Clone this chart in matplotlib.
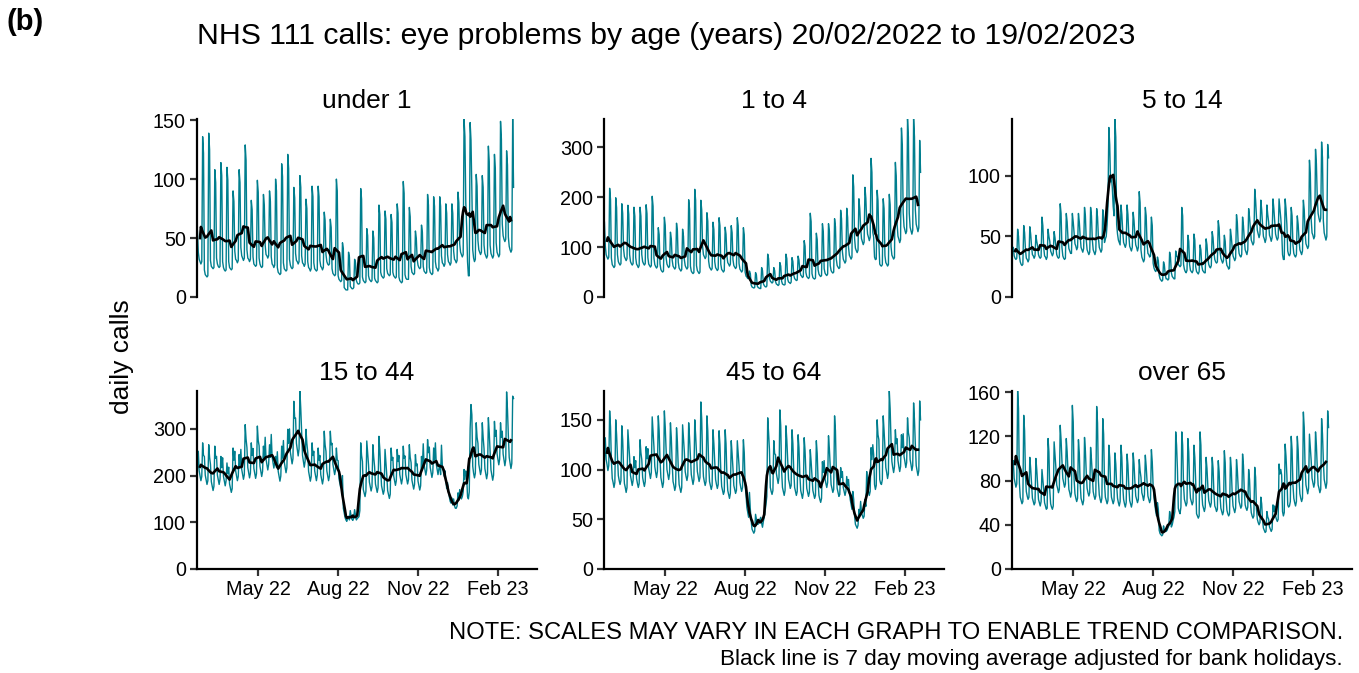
import numpy as np
import pandas as pd
import matplotlib
matplotlib.use("Agg")
import matplotlib.pyplot as plt
import matplotlib.dates as mdates
from matplotlib.ticker import MultipleLocator

plt.rcParams['font.family'] = ['Liberation Sans', 'DejaVu Sans']

# --- données : appels quotidiens, une ligne = une semaine (dim -> sam) ---
start_date = "2022-02-20"

under_1 = [
    [56, 38, 32, 30, 28, 30, 136], [122, 23, 19, 18, 17, 18, 139], [125, 31, 26, 25, 24, 25, 108],
    [97, 33, 28, 26, 25, 26, 114], [103, 30, 25, 23, 22, 23, 110], [99, 30, 25, 24, 23, 24, 90],
    [81, 39, 32, 31, 29, 31, 108], [97, 42, 35, 33, 31, 33, 129], [116, 40, 33, 32, 30, 32, 82],
    [74, 34, 28, 27, 26, 27, 99], [89, 33, 28, 26, 25, 26, 87], [78, 44, 36, 35, 33, 35, 90],
    [81, 34, 28, 27, 25, 27, 100], [90, 25, 21, 20, 19, 20, 113], [102, 29, 24, 23, 22, 23, 121],
    [109, 32, 27, 25, 24, 25, 93], [84, 37, 31, 30, 28, 30, 103], [93, 35, 29, 28, 26, 28, 83],
    [75, 30, 25, 24, 22, 24, 94], [85, 29, 24, 23, 22, 23, 94], [85, 31, 26, 25, 23, 25, 72],
    [65, 36, 30, 28, 27, 28, 66], [59, 24, 20, 19, 18, 19, 100], [90, 18, 15, 14, 13, 14, 46],
    [41, 8, 7, 6, 6, 6, 38], [34, 9, 8, 7, 7, 8, 32], [29, 14, 12, 11, 11, 12, 92],
    [83, 17, 14, 13, 12, 13, 58], [52, 18, 15, 14, 13, 14, 56], [50, 16, 14, 13, 12, 13, 78],
    [70, 21, 18, 17, 16, 17, 73], [66, 24, 20, 19, 18, 19, 70], [63, 21, 18, 17, 16, 17, 79],
    [71, 17, 14, 13, 12, 13, 98], [88, 19, 16, 15, 15, 15, 76], [68, 26, 21, 20, 19, 20, 56],
    [50, 32, 27, 25, 24, 25, 61], [55, 26, 22, 21, 20, 21, 87], [78, 25, 21, 20, 19, 20, 85],
    [77, 30, 25, 24, 22, 24, 85], [77, 35, 29, 28, 26, 28, 79], [71, 36, 30, 29, 27, 29, 79],
    [71, 39, 32, 31, 29, 31, 89], [80, 45, 38, 36, 34, 36, 151], [136, 80, 60, 30, 18, 18, 148],
    [133, 90, 40, 33, 30, 32, 104], [94, 48, 40, 38, 36, 38, 103], [93, 44, 37, 35, 33, 35, 128],
    [115, 44, 37, 35, 33, 35, 121], [109, 46, 38, 36, 34, 36, 149], [134, 62, 52, 49, 47, 49, 124],
    [112, 51, 43, 40, 38, 40, 151], [93],
]

age_1_4 = [
    [150, 102, 85, 80, 76, 80, 218], [196, 78, 65, 62, 59, 62, 199], [179, 85, 71, 67, 64, 67, 187],
    [168, 97, 81, 77, 73, 77, 184], [166, 85, 71, 67, 64, 67, 180], [162, 79, 66, 63, 59, 63, 180],
    [162, 85, 71, 67, 64, 67, 185], [167, 79, 66, 63, 60, 63, 202], [182, 78, 65, 61, 58, 61, 139],
    [125, 66, 55, 52, 50, 52, 160], [144, 79, 66, 62, 59, 62, 130], [117, 74, 62, 59, 56, 59, 148],
    [133, 70, 58, 55, 52, 55, 136], [122, 75, 63, 59, 56, 59, 195], [176, 62, 52, 49, 47, 49, 216],
    [194, 63, 53, 50, 47, 50, 194], [175, 102, 85, 81, 77, 81, 169], [152, 72, 60, 57, 54, 57, 150],
    [135, 71, 59, 56, 53, 56, 159], [143, 66, 55, 53, 50, 53, 140], [126, 83, 69, 66, 62, 66, 143],
    [129, 75, 63, 60, 57, 60, 159], [143, 67, 56, 53, 50, 53, 139], [125, 50, 42, 40, 37, 40, 52],
    [47, 24, 20, 19, 18, 19, 49], [44, 22, 19, 18, 17, 17, 59], [53, 27, 23, 21, 20, 22, 86],
    [77, 38, 32, 30, 28, 30, 59], [53, 31, 26, 25, 23, 25, 69], [62, 32, 26, 25, 24, 25, 86],
    [77, 36, 30, 29, 27, 30, 79], [71, 44, 37, 35, 33, 34, 82], [74, 53, 44, 42, 39, 41, 113],
    [102, 49, 41, 39, 37, 40, 168], [151, 47, 39, 37, 36, 38, 128], [115, 55, 46, 43, 41, 43, 147],
    [132, 57, 48, 45, 43, 46, 147], [132, 63, 53, 50, 48, 50, 157], [141, 76, 63, 60, 57, 59, 174],
    [157, 91, 76, 72, 68, 72, 178], [160, 101, 84, 80, 76, 80, 245], [221, 118, 98, 93, 89, 94, 197],
    [177, 140, 117, 111, 105, 110, 220], [198, 151, 126, 120, 113, 120, 278], [250, 130, 120, 80, 75, 76, 214],
    [193, 110, 66, 63, 62, 65, 197], [177, 83, 69, 66, 62, 65, 206], [185, 101, 84, 80, 76, 79, 270],
    [243, 146, 122, 116, 109, 115, 339], [305, 169, 141, 134, 127, 132, 357], [321, 168, 140, 133, 126, 134, 357],
    [321, 175, 146, 139, 131, 139, 314], [250],
]

age_5_14 = [
    [40, 41, 34, 32, 31, 32, 56], [50, 34, 29, 27, 26, 27, 59], [53, 39, 32, 31, 29, 31, 58],
    [52, 42, 35, 34, 32, 34, 51], [46, 42, 35, 33, 32, 33, 66], [59, 41, 34, 33, 31, 33, 56],
    [50, 46, 38, 36, 34, 36, 54], [49, 42, 35, 33, 32, 33, 77], [69, 41, 34, 32, 31, 32, 69],
    [62, 48, 40, 38, 36, 36, 69], [62, 53, 44, 42, 39, 41, 69], [62, 50, 41, 39, 37, 40, 74],
    [67, 47, 39, 37, 35, 37, 74], [67, 47, 39, 37, 35, 38, 73], [66, 49, 41, 39, 37, 39, 72],
    [65, 45, 48, 50, 60, 75, 140], [126, 95, 100, 90, 75, 67, 147], [132, 60, 52, 47, 45, 43, 76],
    [68, 54, 45, 43, 41, 44, 76], [68, 51, 42, 40, 38, 41, 70], [63, 51, 43, 41, 38, 41, 87],
    [78, 39, 33, 31, 29, 31, 74], [67, 44, 36, 35, 33, 34, 66], [59, 28, 24, 22, 21, 23, 33],
    [30, 18, 15, 14, 13, 14, 29], [26, 18, 15, 15, 14, 15, 37], [33, 20, 17, 16, 15, 15, 38],
    [34, 33, 27, 26, 25, 26, 74], [67, 27, 23, 21, 20, 22, 51], [46, 27, 22, 21, 20, 22, 52],
    [47, 25, 21, 20, 19, 21, 43], [39, 26, 22, 21, 20, 20, 48], [43, 32, 27, 25, 24, 26, 54],
    [49, 37, 31, 29, 28, 29, 63], [57, 38, 32, 30, 28, 30, 51], [46, 31, 26, 25, 23, 24, 56],
    [50, 41, 34, 32, 30, 32, 68], [61, 43, 36, 34, 33, 35, 66], [59, 47, 39, 37, 35, 39, 73],
    [66, 57, 47, 45, 43, 45, 89], [80, 66, 55, 52, 49, 52, 80], [72, 60, 50, 48, 45, 48, 76],
    [68, 62, 51, 49, 46, 49, 81], [73, 62, 52, 49, 47, 49, 81], [73, 65, 55, 35, 31, 31, 81],
    [73, 60, 38, 35, 34, 36, 74], [67, 43, 36, 34, 33, 35, 67], [60, 47, 39, 37, 35, 38, 80],
    [72, 53, 44, 42, 40, 42, 113], [102, 64, 53, 51, 48, 50, 122], [110, 82, 69, 65, 62, 65, 128],
    [115, 63, 53, 50, 47, 50, 126], [115],
]

age_15_44 = [
    [215, 252, 210, 199, 189, 198, 270], [243, 241, 201, 191, 181, 189, 266], [239, 224, 187, 177, 168, 177, 263],
    [237, 241, 201, 191, 181, 192, 241], [217, 238, 198, 188, 178, 189, 227], [204, 218, 182, 173, 164, 172, 259],
    [233, 252, 210, 199, 189, 198, 245], [221, 256, 213, 203, 192, 202, 309], [278, 260, 217, 206, 195, 205, 270],
    [243, 258, 215, 204, 194, 204, 306], [275, 264, 220, 209, 198, 209, 263], [237, 282, 235, 224, 212, 224, 266],
    [239, 288, 240, 228, 216, 228, 241], [217, 251, 209, 199, 188, 199, 263], [237, 275, 229, 217, 206, 217, 299],
    [269, 300, 250, 237, 225, 236, 359], [323, 323, 269, 256, 242, 257, 381], [343, 291, 243, 230, 218, 231, 299],
    [269, 250, 209, 198, 188, 198, 270], [243, 252, 210, 200, 189, 201, 259], [233, 243, 202, 192, 182, 193, 295],
    [266, 252, 210, 199, 189, 199, 295], [266, 269, 224, 213, 202, 212, 259], [233, 232, 193, 184, 174, 184, 200],
    [130, 120, 110, 105, 102, 111, 113], [105, 125, 112, 106, 104, 112, 127], [115, 105, 108, 110, 112, 125, 270],
    [243, 230, 170, 162, 155, 166, 274], [247, 223, 186, 177, 167, 176, 266], [239, 219, 182, 173, 164, 174, 284],
    [256, 213, 178, 169, 160, 168, 256], [230, 202, 168, 160, 151, 160, 259], [233, 239, 199, 189, 179, 189, 256],
    [230, 243, 202, 192, 182, 193, 263], [237, 242, 202, 192, 182, 191, 266], [239, 228, 190, 181, 171, 181, 245],
    [221, 225, 188, 178, 169, 178, 241], [217, 268, 223, 212, 201, 212, 277], [249, 261, 218, 207, 196, 206, 259],
    [233, 270, 225, 214, 202, 214, 224], [202, 265, 221, 210, 199, 210, 191], [172, 185, 170, 155, 145, 141, 152],
    [137, 150, 135, 130, 130, 135, 163], [147, 170, 155, 150, 155, 165, 213], [192, 210, 200, 155, 150, 165, 300],
    [352, 330, 220, 205, 195, 205, 313], [282, 269, 224, 213, 202, 212, 313], [282, 258, 215, 204, 193, 204, 324],
    [292, 254, 212, 201, 190, 201, 316], [284, 297, 247, 235, 223, 235, 313], [282, 295, 246, 233, 221, 234, 379],
    [341, 286, 239, 227, 215, 226, 370], [365],
]

age_45_64 = [
    [110, 132, 110, 105, 99, 104, 159], [143, 109, 91, 87, 82, 87, 150], [135, 113, 94, 89, 85, 89, 144],
    [130, 103, 86, 82, 77, 82, 140], [126, 112, 94, 89, 84, 89, 113], [102, 109, 91, 86, 82, 86, 130],
    [117, 110, 92, 87, 83, 88, 123], [111, 121, 101, 96, 91, 97, 153], [138, 123, 103, 97, 92, 98, 154],
    [139, 110, 92, 87, 82, 87, 159], [143, 120, 100, 95, 90, 96, 147], [132, 106, 88, 84, 79, 83, 142],
    [128, 102, 85, 81, 77, 82, 145], [131, 118, 98, 93, 89, 94, 147], [132, 114, 95, 90, 85, 90, 150],
    [135, 117, 98, 93, 88, 92, 168], [151, 112, 93, 88, 84, 88, 154], [139, 106, 88, 84, 80, 84, 140],
    [126, 108, 90, 85, 81, 85, 139], [125, 99, 83, 79, 75, 78, 140], [126, 95, 79, 75, 71, 76, 129],
    [116, 101, 84, 80, 76, 79, 129], [116, 104, 87, 82, 78, 82, 130], [117, 85, 75, 62, 57, 52, 77],
    [60, 48, 40, 38, 36, 38, 55], [50, 45, 45, 48, 50, 52, 46], [42, 48, 52, 58, 65, 73, 152],
    [137, 120, 82, 78, 75, 79, 129], [116, 115, 96, 91, 86, 92, 160], [144, 99, 82, 78, 74, 79, 144],
    [130, 110, 90, 86, 81, 84, 140], [126, 99, 82, 78, 74, 78, 135], [122, 95, 79, 75, 71, 77, 132],
    [119, 97, 81, 77, 73, 77, 120], [108, 94, 79, 75, 71, 74, 129], [116, 89, 74, 70, 67, 71, 108],
    [97, 109, 91, 86, 82, 87, 134], [121, 102, 85, 81, 77, 80, 154], [139, 97, 81, 77, 73, 75, 102],
    [92, 98, 82, 78, 74, 78, 93], [84, 90, 78, 70, 65, 60, 78], [70, 54, 45, 43, 41, 44, 60],
    [54, 68, 56, 54, 51, 53, 70], [63, 98, 82, 78, 74, 78, 122], [110, 125, 115, 85, 80, 84, 150],
    [135, 130, 90, 86, 85, 90, 154], [139, 122, 102, 97, 91, 96, 179], [161, 129, 108, 102, 97, 103, 140],
    [126, 131, 109, 103, 98, 103, 135], [122, 136, 113, 108, 102, 107, 152], [137, 132, 110, 105, 99, 104, 167],
    [150, 125, 104, 99, 94, 99, 169], [150],
]

over_65 = [
    [95, 98, 82, 78, 74, 77, 161], [145, 78, 65, 62, 59, 61, 139], [125, 84, 70, 66, 63, 65, 101],
    [91, 77, 64, 61, 58, 60, 100], [90, 76, 63, 60, 57, 61, 90], [81, 72, 60, 57, 54, 55, 118],
    [106, 71, 59, 56, 54, 57, 115], [104, 92, 76, 73, 69, 72, 130], [117, 98, 82, 78, 74, 77, 118],
    [106, 87, 72, 69, 65, 69, 148], [133, 81, 68, 64, 61, 64, 117], [105, 77, 64, 61, 58, 62, 119],
    [107, 87, 73, 69, 66, 69, 110], [99, 84, 70, 66, 63, 66, 147], [132, 80, 67, 63, 60, 64, 136],
    [122, 78, 65, 62, 59, 62, 112], [101, 78, 65, 62, 59, 62, 105], [95, 76, 64, 60, 57, 61, 112],
    [101, 75, 63, 59, 56, 60, 104], [94, 75, 62, 59, 56, 60, 105], [95, 79, 66, 63, 60, 63, 99],
    [89, 83, 69, 66, 62, 67, 103], [93, 79, 66, 63, 60, 63, 108], [97, 75, 65, 58, 52, 48, 60],
    [54, 35, 32, 31, 30, 31, 39], [35, 34, 34, 35, 37, 39, 52], [47, 38, 40, 44, 47, 52, 124],
    [112, 90, 55, 52, 50, 56, 124], [112, 76, 63, 60, 57, 60, 118], [106, 77, 64, 61, 58, 61, 112],
    [101, 80, 50, 48, 46, 48, 124], [112, 70, 58, 55, 52, 56, 101], [91, 75, 62, 59, 56, 60, 101],
    [91, 69, 57, 55, 52, 54, 98], [88, 66, 55, 52, 49, 52, 107], [96, 64, 53, 50, 48, 50, 101],
    [91, 69, 57, 54, 51, 55, 99], [89, 73, 61, 58, 55, 57, 104], [94, 70, 58, 55, 53, 56, 90],
    [81, 61, 51, 48, 46, 48, 92], [83, 54, 45, 42, 40, 42, 65], [59, 44, 37, 35, 33, 34, 52],
    [47, 45, 38, 36, 34, 36, 58], [52, 57, 48, 45, 43, 45, 95], [86, 90, 85, 52, 48, 51, 113],
    [102, 85, 58, 56, 57, 61, 120], [108, 76, 64, 60, 57, 61, 120], [108, 81, 68, 64, 61, 64, 142],
    [128, 91, 76, 72, 68, 73, 122], [110, 98, 82, 78, 74, 78, 124], [112, 92, 76, 73, 69, 72, 136],
    [122, 98, 81, 77, 73, 78, 143], [128],
]

panel_titles = ["under 1", "1 to 4", "5 to 14", "15 to 44", "45 to 64", "over 65"]
panel_data = [under_1, age_1_4, age_5_14, age_15_44, age_45_64, over_65]
y_steps = [50, 100, 50, 100, 50, 40]

# --- figure ---
W, H = 1359, 673
fig = plt.figure(figsize=(W / 100, H / 100), dpi=100)

lefts = [197, 604, 1012]
tops = [119, 391]
pw, ph = 340, 178

teal = "#007E8E"
dates = pd.date_range(start_date, periods=365, freq="D")
x_min = dates[0] - pd.Timedelta(days=0.5)
x_max = dates[0] + pd.Timedelta(days=391)

for i, (titre, semaines) in enumerate(zip(panel_titles, panel_data)):
    r, c = divmod(i, 3)
    ax = fig.add_axes([lefts[c] / W, 1 - (tops[r] + ph) / H, pw / W, ph / H])
    vals = np.concatenate([np.array(s, dtype=float) for s in semaines])
    serie = pd.Series(vals, index=dates)
    # moyenne mobile 7 jours (centrée)
    moy = serie.rolling(7, center=True, min_periods=7).mean()

    ax.plot(dates, vals, color=teal, lw=1.0)
    ax.plot(dates, moy.values, color="black", lw=1.9)

    ax.set_xlim(x_min, x_max)
    ax.set_ylim(0, vals.max())
    ax.yaxis.set_major_locator(MultipleLocator(y_steps[i]))
    ax.set_title(titre, fontsize=19, pad=8)

    for s in ["top", "right"]:
        ax.spines[s].set_visible(False)
    ax.spines["left"].set_linewidth(1.6)
    ax.spines["bottom"].set_linewidth(1.6)
    ax.tick_params(axis="both", length=5, width=1.6, color="#333333",
                   labelsize=14.2, labelcolor="black", pad=3)

    ax.xaxis.set_major_locator(mdates.MonthLocator(bymonth=[2, 5, 8, 11]))
    ax.xaxis.set_major_formatter(mdates.DateFormatter("%b %y"))
    if r == 0:
        ax.spines["bottom"].set_visible(False)
        ax.tick_params(axis="x", bottom=False, labelbottom=False)

fig.text(197 / W, 1 - 36 / H, "NHS 111 calls: eye problems by age (years) 20/02/2022 to 19/02/2023",
         fontsize=21.8, ha="left", va="center")
fig.text(6 / W, 1 - 22 / H, "(b)", fontsize=21, fontweight="bold", ha="left", va="center")
fig.text(122 / W, 1 - 357 / H, "daily calls", fontsize=19, rotation=90, ha="center", va="center")

fig.text(1343 / W, 1 - 633 / H, "NOTE: SCALES MAY VARY IN EACH GRAPH TO ENABLE TREND COMPARISON.",
         fontsize=17.1, ha="right", va="center")
fig.text(1343 / W, 1 - 659 / H, "Black line is 7 day moving average adjusted for bank holidays.",
         fontsize=16.2, ha="right", va="center")

fig.savefig("out.png", dpi=100)
